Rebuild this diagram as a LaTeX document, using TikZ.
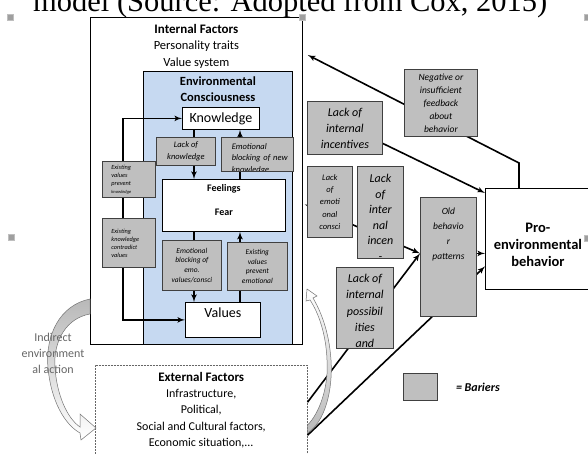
\documentclass[tikz,border=0pt]{standalone}
\usepackage{fontspec}
\setmainfont{Carlito}
\newfontfamily\titlefont{Liberation Serif}
\usetikzlibrary{arrows,positioning}
\tikzset{every picture/.style={
  >=latex'                      % LaTeX style arrows.
  }
}
\definecolor{ecblue}{RGB}{198,217,241}
\definecolor{bargray}{RGB}{191,191,191}
\pgfdeclarelayer{boxes}
\pgfdeclarelayer{links}
\pgfsetlayers{boxes,links,main}

\begin{document}
\begin{tikzpicture}[
    x=1pt, y=-1pt,
    node distance=0pt,
    box/.style={
      draw,
      fill=white,
      line width=0.8pt,
      anchor=north west,
      inner sep=0pt
    },
    bar/.style={
      draw=black!75,
      fill=bargray,
      line width=0.8pt,
      anchor=north west,
      align=center,
      inner sep=1pt
    },
    lbl/.style={
      inner sep=0pt,
      align=center
    },
    link/.style={
      line width=1.6pt
    }]

    % Helper macro for font sizes.
    \def\fsz#1#2{\fontsize{#1}{#2}\selectfont}

    \useasboundingbox (0,0) rectangle (588,454);

    % Draw the caption line, cut at the top.
    \node[anchor=base west, inner sep=0pt, font=\titlefont\fsz{30.5}{36}] (title)
      at (33,12) {model (Source: Adopted from Cox, 2015)};

    \begin{pgfonlayer}{boxes}
    % Draw the factor boxes.
    \node[box, minimum width=212pt, minimum height=327pt] (int) at (90,17) {};
    \node[lbl, below=7pt of int.north, font=\fsz{12.5}{16.5}] (intlbl)
      {{\fsz{13}{16.5}\bfseries Internal Factors}\\Personality traits\\Value system};
    \node[box, fill=ecblue, minimum width=149pt, minimum height=273pt] (ec) at (143,71) {};
    \node[lbl, below=6pt of ec.north, font=\bfseries\fsz{12.5}{16}] (eclbl)
      {Environmental\\Consciousness};
    \node[box, minimum width=77pt, minimum height=22pt, font=\fsz{14}{16}] (know)
      at (182,107) {Knowledge};
    \node[box, minimum width=123pt, minimum height=52pt] (feel) at (162,179) {};
    \node[lbl, below=5pt of feel.north, font=\bfseries\fsz{10}{24}] (feellbl)
      {Feelings\\Fear};
    \node[box, minimum width=75pt, minimum height=35pt] (val) at (185,302) {};
    \node[lbl, below=6pt of val.north, font=\fsz{14}{16}] (vallbl) {Values};

    % Draw the behavior and the external factors.
    \node[box, minimum width=105pt, minimum height=101pt] (proenv) at (485,188) {};
    \node[lbl, font=\bfseries\fsz{14.5}{17}] (pelbl) at ([yshift=-6pt]proenv.center)
      {Pro-\\environmental\\behavior};
    \node[box, draw=black!60, dash pattern=on 2pt off 1pt, line width=0.5pt,
      minimum width=212pt, minimum height=110pt] (ext) at (95,365) {};
    \node[lbl, below=7pt of ext.north, font=\fsz{12}{16.25}] (extlbl)
      {{\fsz{13}{16.25}\bfseries External Factors}\\Infrastructure,\\Political,\\
       Social and Cultural factors,\\Economic situation,...};
    \end{pgfonlayer}

    % Draw the curved block arrows.
    \draw[draw=black!55, top color=gray!55, bottom color=white, line width=0.5pt]
      (int.west |- 0,299) .. controls (60,305) and (45,335) .. (48,368)
      .. controls (51,400) and (64,424) .. (80,433) -- (81,440) -- (96,428)
      -- (80,414) -- (80,427) .. controls (67,418) and (57,395) .. (55,368)
      .. controls (53,340) and (67,318) .. (int.west |- 0,314) -- cycle;
    \draw[draw=black!55, bottom color=gray!55, top color=white, line width=0.5pt]
      (ext.east |- 0,433) .. controls (325,422) and (333,390) .. (331,360)
      .. controls (329,330) and (320,310) .. (313,298) -- (317,296) -- (307,289)
      -- (306,301) -- (310,300) .. controls (318,312) and (326,333) .. (327,360)
      .. controls (329,387) and (319,414) .. (ext.east |- 0,425) -- cycle;
    \node[lbl, font=\fsz{12}{16}, text=black!60] (indir) at (53,353)
      {Indirect\\environment\\al action};

    % Draw the barriers.
    \node[bar, minimum width=59pt, minimum height=28pt, font=\itshape\fsz{8.5}{12}]
      (lok) at (156,137) {Lack of\\knowledge};
    \node[bar, minimum width=72pt, minimum height=34pt,
      path picture={\node[lbl, anchor=north west, minimum width=0pt, minimum height=0pt,
        text width=60pt, align=left, font=\itshape\fsz{8.5}{11.5}] (ebntxt)
        at ([shift={(10pt,-5.5pt)}]path picture bounding box.north west)
        {Emotional\\blocking of new\\knowledge};}] (ebn) at (221,137) {};
    \node[bar, minimum width=59pt, minimum height=50pt, font=\itshape\fsz{7.5}{9.7}]
      (ebe) at (162,240) {Emotional\\blocking of\\emo.\\values/consci};
    \node[bar, minimum width=60pt, minimum height=48pt, font=\itshape\fsz{7.5}{9.7}]
      (evp) at (227,242) {Existing\\values\\prevent\\emotional};
    \node[bar, minimum width=53pt, minimum height=36pt, text width=35pt, inner xsep=9pt,
      align=left, font=\itshape\fsz{6.3}{8}]
      (evk) at (102,161) {Existing\\values\\prevent\\{\fsz{4.5}{8}knowledge}};
    \node[bar, minimum width=53pt, minimum height=49pt, text width=35pt, inner xsep=9pt,
      align=left, font=\itshape\fsz{6.3}{8}]
      (ekc) at (102,218) {Existing\\knowledge\\contradict\\values};
    \node[bar, minimum width=73pt, minimum height=67pt, font=\itshape\fsz{9.5}{13}]
      (fbk) at (404,69) {Negative or\\insufficient\\feedback\\about\\behavior};
    \node[bar, minimum width=75pt, minimum height=53pt, font=\itshape\fsz{12}{16}]
      (lii) at (307,101) {Lack of\\internal\\incentives};
    \node[bar, minimum width=45pt, minimum height=71pt, font=\itshape\fsz{8.5}{12.4}]
      (lec) at (307,166) {Lack\\of\\emoti\\onal\\consci};
    \node[bar, minimum width=46pt, minimum height=92pt,
      path picture={\node[lbl, anchor=north, minimum width=0pt, minimum height=0pt,
        font=\itshape\fsz{12}{15.5}] (lintxt)
        at ([yshift=-7.5pt]path picture bounding box.north)
        {Lack\\of\\inter\\nal\\incen\\-};}] (lin) at (357,166) {};
    \node[bar, minimum width=56pt, minimum height=119pt,
      path picture={\node[lbl, anchor=north, minimum width=0pt, minimum height=0pt,
        font=\itshape\fsz{9.5}{15}] (obptxt)
        at ([yshift=-10pt]path picture bounding box.north)
        {Old\\behavio\\r\\patterns};}] (obp) at (420,197) {};
    \node[bar, minimum width=57pt, minimum height=81pt,
      path picture={\node[lbl, anchor=north, minimum width=0pt, minimum height=0pt,
        font=\itshape\fsz{12}{16.3}] (liptxt)
        at ([yshift=-6.5pt]path picture bounding box.north)
        {Lack of\\internal\\possibil\\ities\\and};}] (lip) at (336,267) {};

    % Draw the legend.
    \node[bar, minimum width=34pt, minimum height=27pt] (leg) at (403,373) {};
    \node[right=18pt of leg, inner sep=0pt, font=\bfseries\itshape\fsz{12}{14}]
      (legtxt) {= Bariers};

    \begin{pgfonlayer}{links}
    % Draw the links inside the consciousness box.
    \coordinate (lft) at (123,0);
    \coordinate (dn) at (194,0);
    \coordinate (upx) at (240,0);
    \draw[link,<->] (know.west) -- (know.west -| lft) |- (val.west);
    \draw[link,->] (know.south -| dn) -- (feel.north -| dn);
    \draw[link,->] (feel.north -| upx) -- (know.south -| upx);
    \draw[link,->] (feel.south -| dn) -- (val.north -| dn);
    \draw[link,->] (val.north -| upx) -- (feel.south -| upx);

    % Draw the links around the behavior.
    \coordinate (fbin) at ([shift={(5pt,-38pt)}]int.north east);
    \coordinate (lecin) at ([shift={(2pt,-23.5pt)}]int.east);
    \coordinate (obin) at ([yshift=3.5pt]obp.west);
    \draw[link,->] ([xshift=34pt]proenv.north west) -- ++(0,-25) -- (fbin);
    \draw[link,->] ([shift={(13pt,-12pt)}]lii.north west) -- ([yshift=-5pt]proenv.north west);
    \draw[link,<->] (lecin) -- (obin);
    \draw[link,->] ([yshift=18pt]ext.east) -- (obin);
    \draw[link,->] ([yshift=-15pt]ext.east) -- ([yshift=-27.5pt]proenv.west);
    \draw[link,->] (obp.east |- obin) -- (proenv.west |- obin);
    \end{pgfonlayer}

    % Draw the picture handles.
    \foreach \hx/\hy in {10/17, 302/17, 587/17, 11/237, 587/238}
      \draw[gray!50, fill=gray!75] (\hx-3,\hy-3) rectangle (\hx+3,\hy+3);
\end{tikzpicture}
\end{document}
